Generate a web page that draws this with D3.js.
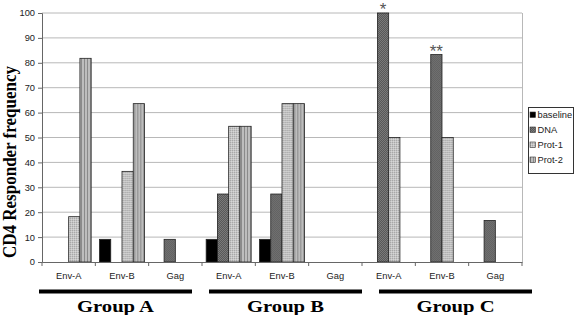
<!DOCTYPE html>
<html><head><meta charset="utf-8">
<script src="https://cdn.jsdelivr.net/npm/d3@7"></script>
<style>body{margin:0;background:#fff}svg{display:block}</style>
</head><body><svg id="c" width="576" height="315"></svg>
<script>
const groups = ["Group A","Group B","Group C"];
const antigens = ["Env-A","Env-B","Gag"];
const series = ["baseline","DNA","Prot-1","Prot-2"];
// values per group, per antigen: [baseline, DNA, Prot-1, Prot-2]
const groupA = [[0,0,18.2,81.8],[9.1,0,36.4,63.6],[0,9.1,0,0]];
const groupB = [[9.1,27.3,54.5,54.5],[9.1,27.3,63.6,63.6],[0,0,0,0]];
const groupC = [[0,100,50,0],[0,83.3,50,0],[0,16.7,0,0]];
const yTicks = [0,10,20,30,40,50,60,70,80,90,100];
const annotations = [{group:"Group C",antigen:"Env-A",series:"DNA",text:"*"},{group:"Group C",antigen:"Env-B",series:"DNA",text:"**"}];
const yLabel = "CD4 Responder frequency";

const allVals = [groupA, groupB, groupC];
const cats = [];
groups.forEach((g,gi)=>antigens.forEach((a,ai)=>cats.push({key:g+"|"+a,group:g,antigen:a,vals:allVals[gi][ai]})));

const svg = d3.select("#c");
const L=42,R=522,T=13,B=262;
const x = d3.scaleBand().domain(cats.map(c=>c.key)).range([L,R]).paddingInner(0).paddingOuter(0);
const xs = d3.scaleBand().domain(series).range([0,x.bandwidth()]).paddingInner(0).paddingOuter(0.37);
const y = d3.scaleLinear().domain([0,100]).range([B,T]);

// patterns
const defs = svg.append("defs");
const p1 = defs.append("pattern").attr("id","pDNA").attr("patternUnits","userSpaceOnUse").attr("width",2).attr("height",2);
p1.append("rect").attr("width",2).attr("height",2).attr("fill","#585858");
p1.append("rect").attr("width",1).attr("height",1).attr("fill","#7a7a7a");
p1.append("rect").attr("x",1).attr("y",1).attr("width",1).attr("height",1).attr("fill","#7a7a7a");
const p2 = defs.append("pattern").attr("id","pP1").attr("patternUnits","userSpaceOnUse").attr("width",2).attr("height",2);
p2.append("rect").attr("width",2).attr("height",2).attr("fill","#c4c4c4");
p2.append("rect").attr("width",1).attr("height",1).attr("fill","#a8a8a8");
p2.append("rect").attr("x",1).attr("y",1).attr("width",1).attr("height",1).attr("fill","#d6d6d6");
const p3 = defs.append("pattern").attr("id","pP2").attr("patternUnits","userSpaceOnUse").attr("width",3).attr("height",3);
p3.append("rect").attr("width",3).attr("height",3).attr("fill","#bdbdbd");
p3.append("rect").attr("width",1).attr("height",3).attr("fill","#8a8a8a");
const fills = {"baseline":"#000","DNA":"url(#pDNA)","Prot-1":"url(#pP1)","Prot-2":"url(#pP2)"};

// gridlines
svg.append("g").selectAll("line").data(yTicks.filter(t=>t>0)).join("line")
  .attr("x1",L).attr("x2",R).attr("y1",d=>y(d)).attr("y2",d=>y(d))
  .attr("stroke","#b8b8b8").attr("stroke-width",1);
// right border
svg.append("line").attr("x1",R+0.5).attr("x2",R+0.5).attr("y1",T).attr("y2",B).attr("stroke","#b8b8b8");

// bars
const cg = svg.append("g").selectAll("g").data(cats).join("g").attr("transform",d=>`translate(${x(d.key)},0)`);
cg.selectAll("rect").data(d=>d.vals.map((v,i)=>({s:series[i],v}))).join("rect")
  .filter(d=>d.v>0)
  .attr("x",d=>xs(d.s)).attr("width",xs.bandwidth())
  .attr("y",d=>y(d.v)).attr("height",d=>B-y(d.v))
  .attr("fill",d=>fills[d.s]).attr("stroke","#222").attr("stroke-width",0.8);

// annotations
svg.append("g").selectAll("text").data(annotations).join("text")
  .attr("x",d=>x(d.group+"|"+d.antigen)+xs(d.series)+xs.bandwidth()/2)
  .attr("y",d=>{const c=cats.find(c=>c.key===d.group+"|"+d.antigen);return y(c.vals[series.indexOf(d.series)])+2;})
  .attr("text-anchor","middle").attr("font-family","Liberation Sans, Arial").attr("font-size",17).attr("fill","#555")
  .text(d=>d.text);

// y axis
const ya = d3.axisLeft(y).tickValues(yTicks).tickSize(4).tickPadding(3);
const yg = svg.append("g").attr("transform",`translate(${L},0)`).call(ya);
yg.select(".domain").attr("stroke","#666");
yg.selectAll(".tick line").attr("stroke","#666");
yg.selectAll("text").attr("font-family","Liberation Sans, Arial").attr("font-size",9.3).attr("fill","#222");

// x axis
const xa = d3.axisBottom(x).tickSize(0).tickPadding(10).tickFormat(k=>k.split("|")[1]);
const xg = svg.append("g").attr("transform",`translate(0,${B})`).call(xa);
xg.select(".domain").attr("stroke","#666");
xg.selectAll("text").attr("font-family","Liberation Sans, Arial").attr("font-size",9.3).attr("fill","#222");
svg.append("g").selectAll("line").data(cats.concat([null])).join("line")
  .attr("x1",(d,i)=>i<cats.length?x(d.key):R).attr("x2",(d,i)=>i<cats.length?x(d.key):R)
  .attr("y1",B).attr("y2",B+4).attr("stroke","#666");

// group bars & labels
const gLines=[[39,192],[209,362],[379,532]];
svg.append("g").selectAll("line").data(groups).join("line")
  .attr("x1",(d,i)=>gLines[i][0]).attr("x2",(d,i)=>gLines[i][1])
  .attr("y1",291.5).attr("y2",291.5).attr("stroke","#000").attr("stroke-width",4);
svg.append("g").selectAll("text").data(groups).join("text")
  .attr("transform",(d,i)=>`translate(${(gLines[i][0]+gLines[i][1])/2},312) scale(1.18,1)`)
  .attr("text-anchor","middle").attr("font-family","Liberation Serif, Times New Roman").attr("font-weight","bold").attr("font-size",17.5)
  .attr("fill","#000")
  .text(d=>d);

// y label
svg.append("text").attr("transform","translate(16,162) scale(1.08,1) rotate(-90)").attr("text-anchor","middle")
  .attr("font-family","Liberation Serif, Times New Roman").attr("font-weight","bold").attr("font-size",17).attr("fill","#000")
  .text(yLabel);

// legend
const lg = svg.append("g").attr("transform","translate(528,107)");
lg.append("rect").attr("x",0.5).attr("y",0.5).attr("width",45).attr("height",66).attr("fill","#fff").attr("stroke","#333");
const li = lg.selectAll("g").data(series).join("g").attr("transform",(d,i)=>`translate(2,${8+i*15})`);
li.append("rect").attr("x",0).attr("y",-3).attr("width",5.5).attr("height",5.5).attr("fill",d=>fills[d]).attr("stroke","#333").attr("stroke-width",0.6);
li.append("text").attr("x",7.5).attr("y",3.3).attr("font-family","Liberation Sans, Arial").attr("font-size",9.3).attr("fill","#222").text(d=>d);
</script></body></html>
